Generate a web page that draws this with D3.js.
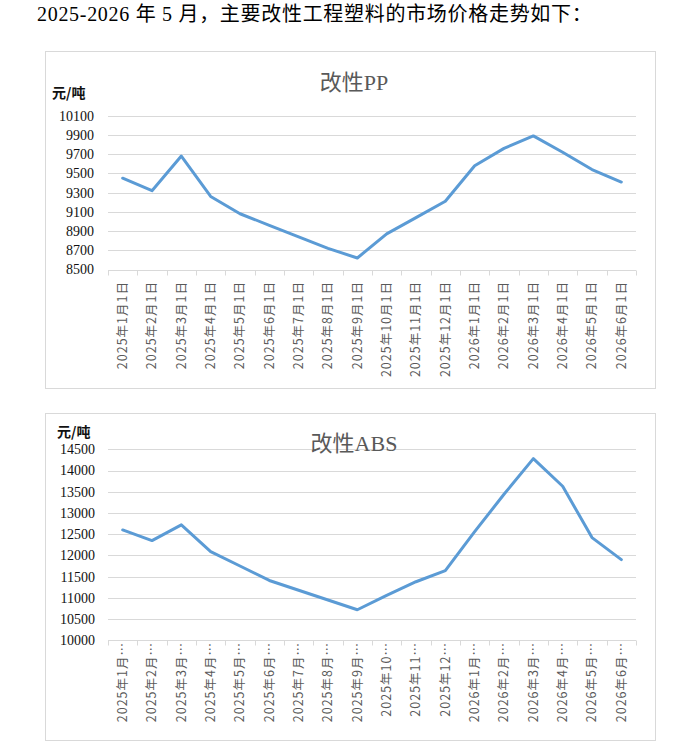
<!DOCTYPE html>
<html>
<head>
<meta charset="utf-8">
<script src="https://cdn.jsdelivr.net/npm/d3@7"></script>
<style>
  body { margin: 0; background: #fff; }
  svg { display: block; }
</style>
</head>
<body>
<svg id="page"></svg>
<script>
const months = ["2025年1月1日", "2025年2月1日", "2025年3月1日", "2025年4月1日", "2025年5月1日",
  "2025年6月1日", "2025年7月1日", "2025年8月1日", "2025年9月1日", "2025年10月1日",
  "2025年11月1日", "2025年12月1日", "2026年1月1日", "2026年2月1日", "2026年3月1日",
  "2026年4月1日", "2026年5月1日", "2026年6月1日"];

let ppPrice = [9450, 9320, 9680, 9260, 9080, 8960, 8840, 8720, 8620,
  8870, 9040, 9210, 9580, 9760, 9890, 9720, 9540, 9410];
let absPrice = [12600, 12350, 12720, 12090, 11750, 11410, 11180, 10950, 10720,
  11060, 11380, 11640, 12560, 13440, 14280, 13630, 12420, 11900];

let ppTicks = [8500, 8700, 8900, 9100, 9300, 9500, 9700, 9900, 10100];
let absTicks = [10000, 10500, 11000, 11500, 12000, 12500, 13000, 13500, 14000, 14500];

let width = 693, height = 747;

let svg = d3.select("#page")
  .attr("width", width)
  .attr("height", height);

svg.append("text")
  .attr("x", 37)
  .attr("y", 21)
  .attr("font-family", "'Liberation Serif', 'Noto Sans CJK SC', serif")
  .attr("font-size", 20)
  .attr("letter-spacing", 0.7)
  .attr("fill", "#000")
  .text("2025-2026 年 5 月，主要改性工程塑料的市场价格走势如下：");

function drawChart(opt) {
  let g = svg.append("g");

  g.append("rect")
    .attr("x", opt.box[0] + 0.5).attr("y", opt.box[1] + 0.5)
    .attr("width", opt.box[2]).attr("height", opt.box[3])
    .attr("fill", "#fff").attr("stroke", "#d9d9d9");

  let xax = d3.scaleBand()
    .domain(months)
    .range([108, 636]);

  let yax = d3.scaleLinear()
    .domain([opt.ticks[0], opt.ticks[opt.ticks.length - 1]])
    .range([opt.bottom, opt.top]);

  // gridlines
  g.append("g")
    .selectAll("line")
    .data(opt.ticks.slice(1))
    .join("line")
      .attr("x1", xax.range()[0]).attr("x2", xax.range()[1])
      .attr("y1", d => Math.round(yax(d)) + 0.5)
      .attr("y2", d => Math.round(yax(d)) + 0.5)
      .attr("stroke", "#d9d9d9");

  // y labels
  g.append("g")
    .selectAll("text")
    .data(opt.ticks)
    .join("text")
      .attr("x", opt.labelX)
      .attr("y", d => yax(d))
      .attr("dy", "0.35em")
      .attr("text-anchor", "end")
      .attr("font-family", "'Liberation Serif', serif")
      .attr("font-size", 14)
      .attr("fill", "#111")
      .text(d => d);

  // x axis line and tick marks between categories
  let ay = Math.round(opt.bottom) + 0.5;
  g.append("line")
    .attr("x1", xax.range()[0]).attr("x2", xax.range()[1])
    .attr("y1", ay).attr("y2", ay)
    .attr("stroke", "#d9d9d9");
  g.append("g")
    .selectAll("line")
    .data(months.map(m => xax(m)).concat([xax.range()[1]]))
    .join("line")
      .attr("x1", d => Math.round(d) + 0.5).attr("x2", d => Math.round(d) + 0.5)
      .attr("y1", ay).attr("y2", ay + 5)
      .attr("stroke", "#d9d9d9");

  // x labels (rotated)
  g.append("g")
    .selectAll("text")
    .data(months)
    .join("text")
      .attr("transform", d => `translate(${xax(d) + xax.bandwidth() / 2},${opt.xLabelY}) rotate(-90)`)
      .attr("dy", "0.35em")
      .attr("text-anchor", "end")
      .attr("font-family", "'Noto Sans CJK SC', sans-serif")
      .attr("font-size", 12.5)
      .attr("letter-spacing", 1)
      .attr("fill", "#595959")
      .text(d => opt.short ? d.slice(0, 7) + "…" : d);

  // title and unit
  g.append("text")
    .attr("x", 354).attr("y", opt.titleY)
    .attr("dy", "0.35em")
    .attr("text-anchor", "middle")
    .attr("font-family", "'Liberation Serif', 'Noto Sans CJK SC', serif")
    .attr("font-size", 22)
    .attr("fill", "#595959")
    .text(opt.title);

  g.append("text")
    .attr("x", opt.unit[0]).attr("y", opt.unit[1])
    .attr("dy", "0.35em")
    .attr("font-family", "'Noto Sans CJK SC', sans-serif")
    .attr("font-size", 14)
    .attr("font-weight", "bold")
    .attr("fill", "#111")
    .text("元/吨");

  let linegen = d3.line()
    .x((d, i) => xax(months[i]) + xax.bandwidth() / 2)
    .y(d => yax(d));

  g.append("path")
    .attr("d", linegen(opt.values))
    .attr("stroke", "#5b9bd5")
    .attr("stroke-width", 3)
    .attr("stroke-linejoin", "round")
    .attr("stroke-linecap", "round")
    .attr("fill", "none");
}

drawChart({
  box: [45, 51, 610, 337],
  top: 115.7, bottom: 269.5,
  ticks: ppTicks, values: ppPrice,
  labelX: 94, xLabelY: 281,
  title: "改性PP", titleY: 82,
  unit: [52, 93],
  short: false
});

drawChart({
  box: [45, 413, 610, 327],
  top: 449.3, bottom: 640.3,
  ticks: absTicks, values: absPrice,
  labelX: 95, xLabelY: 642,
  title: "改性ABS", titleY: 443,
  unit: [57, 432],
  short: true
});
</script>
</body>
</html>
